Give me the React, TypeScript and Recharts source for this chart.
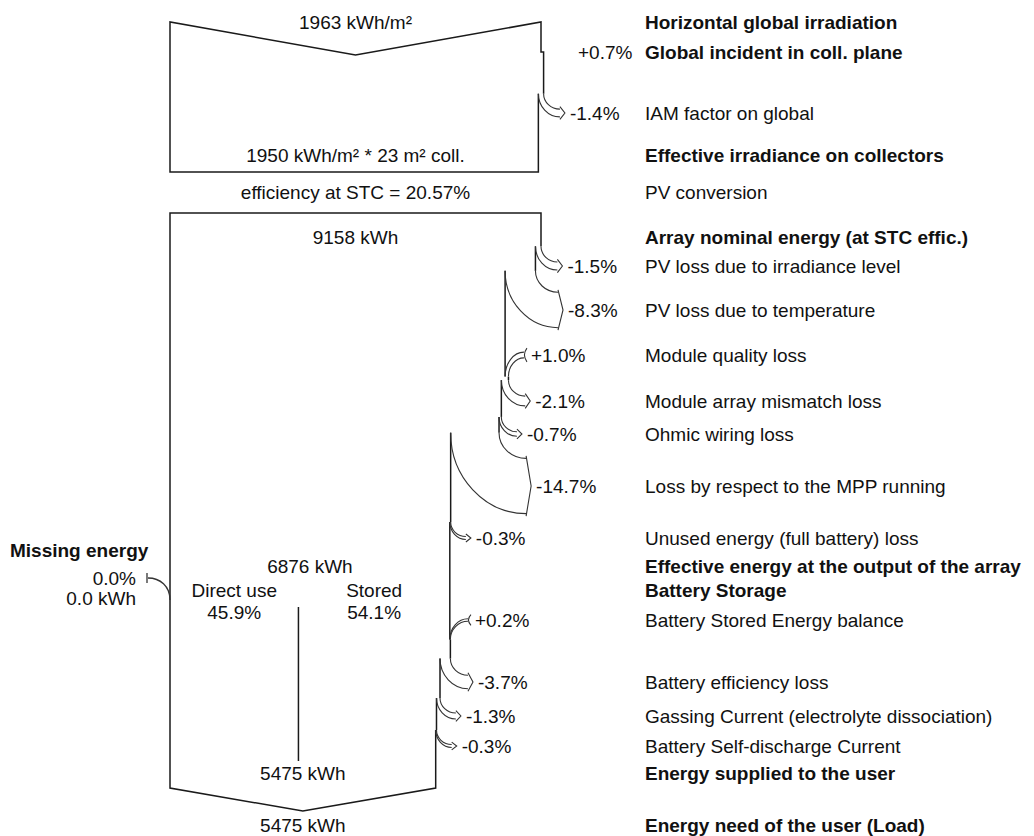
import React from 'react';
import { ComposedChart, Line, Scatter, XAxis, YAxis } from 'recharts';

// right-hand step labels, top to bottom
const STEP_LABELS = [
  'Horizontal global irradiation',
  'Global incident in coll. plane',
  'IAM factor on global',
  'Effective irradiance on collectors',
  'PV conversion',
  'Array nominal energy (at STC effic.)',
  'PV loss due to irradiance level',
  'PV loss due to temperature',
  'Module quality loss',
  'Module array mismatch loss',
  'Ohmic wiring loss',
  'Loss by respect to the MPP running',
  'Unused energy (full battery) loss',
  'Effective energy at the output of the array',
  'Battery Storage',
  'Battery Stored Energy balance',
  'Battery efficiency loss',
  'Gassing Current (electrolyte dissociation)',
  'Battery Self-discharge Current',
  'Energy supplied to the user',
  'Energy need of the user (Load)',
];
const STEP_BOLD = [1, 1, 0, 1, 0, 1, 0, 0, 0, 0, 0, 0, 0, 1, 1, 0, 0, 0, 0, 1, 1];
// gain / loss of each step in %, null = no step
const STEP_PCT: (number | null)[] = [
  null, 0.7, -1.4, null, null, null, -1.5, -8.3, 1.0, -2.1, -0.7, -14.7, -0.3,
  null, null, 0.2, -3.7, -1.3, -0.3, null, null,
];

const IRRADIATION = 1963; // kWh/m²
const EFFECTIVE_IRR = 1950; // kWh/m²
const COLL_AREA = 23; // m²
const STC_EFF = 20.57; // %
const NOMINAL_KWH = 9158;
const ARRAY_OUT_KWH = 6876;
const DIRECT_USE_PCT = 45.9;
const STORED_PCT = 54.1;
const SUPPLIED_KWH = 5475;
const LOAD_KWH = 5475;
const MISSING_PCT = 0.0;
const MISSING_KWH = 0.0;

// layout
const W = 1034;
const H = 836;
const FLOW_LEFT = 170;
const FLOW_W = 371; // px for a factor of 1
const X_MIN = -FLOW_LEFT / FLOW_W;
const X_MAX = (W - FLOW_LEFT) / FLOW_W;
const LABEL_X = 645;
const ROW_Y = [22, 52, 113, 155, 192, 237, 266, 310, 355, 401, 434, 486, 538, 566, 590, 620, 682, 716, 746, 773, 825];
const SECTION_START = [0, 5];
const TOP_BOX = { top: 22, bottom: 172, vDepth: 33 };
const MAIN_BOX = { top: 213, bottom: 788, vDepth: 23 };
const DIVIDER_Y = [607, 761];
const MISSING_Y = 578;
const FONT = "'Liberation Sans', Arial, sans-serif";
const FS = 19;
const INK = '#111';
const EDGE = '#1a1a1a';
const ARC = '#333';

const fmtPct = (p: number) => (p > 0 ? '+' : '') + p.toFixed(1) + '%';

// walk through the steps, keep the flow width factor
const steps: any[] = [];
const levelAfter: number[] = [];
let level = 1;
STEP_LABELS.forEach((_, i) => {
  if (SECTION_START.includes(i)) level = 1;
  const p = STEP_PCT[i];
  if (p != null) {
    const fNew = level * (1 + p / 100);
    const w = Math.abs(fNew - level) * FLOW_W;
    const hh = 0.55 * w + 1;
    const reach = 20 + 0.25 * w;
    const arc = i !== 1;
    const ys = !arc
      ? ROW_Y[i]
      : p < 0
        ? ROW_Y[i] - hh - (reach - 5) * 0.95
        : ROW_Y[i] + hh + reach * 0.9;
    steps.push({ row: i, x: level, y: ROW_Y[i], fPrev: level, fNew, pct: p, ys, hh, reach, arc });
    level = fNew;
  }
  levelAfter.push(level);
});

const stepAt = (row: number) => steps.find((s) => s.row === row);
const mainSteps = steps.filter((s) => s.row >= 5);
const fOut = levelAfter[12];
const fEnd = levelAfter[18];
const fDiv = fOut * DIRECT_USE_PCT / 100;

const s1 = stepAt(1);
const s2 = stepAt(2);
const outlines: { x: number; y: number }[][] = [
  [
    { x: s2.fNew, y: s2.ys },
    { x: s2.fNew, y: TOP_BOX.bottom },
    { x: 0, y: TOP_BOX.bottom },
    { x: 0, y: TOP_BOX.top },
    { x: 0.5, y: TOP_BOX.top + TOP_BOX.vDepth },
    { x: 1, y: TOP_BOX.top },
    { x: 1, y: s1.y },
    { x: s1.fNew, y: s1.y },
    { x: s1.fNew, y: s2.ys },
  ],
  [
    { x: 1, y: mainSteps[0].ys },
    { x: 1, y: MAIN_BOX.top },
    { x: 0, y: MAIN_BOX.top },
    { x: 0, y: MAIN_BOX.bottom },
    { x: fEnd / 2, y: MAIN_BOX.bottom + MAIN_BOX.vDepth },
    { x: fEnd, y: MAIN_BOX.bottom },
    { x: fEnd, y: mainSteps[mainSteps.length - 1].ys },
  ],
  [
    { x: fDiv, y: DIVIDER_Y[0] },
    { x: fDiv, y: DIVIDER_Y[1] },
  ],
];
mainSteps.slice(0, -1).forEach((s, k) => {
  outlines.push([
    { x: s.fNew, y: s.ys },
    { x: s.fNew, y: mainSteps[k + 1].ys },
  ]);
});

const boxTexts = [
  { x: 0.5, y: ROW_Y[0], text: `${IRRADIATION} kWh/m²` },
  { x: 0.5, y: ROW_Y[3], text: `${EFFECTIVE_IRR} kWh/m² * ${COLL_AREA} m² coll.` },
  { x: 0.5, y: ROW_Y[4], text: `efficiency at STC = ${STC_EFF}%` },
  { x: 0.5, y: ROW_Y[5], text: `${NOMINAL_KWH} kWh` },
  { x: fOut / 2, y: ROW_Y[13], text: `${ARRAY_OUT_KWH} kWh` },
  { x: fDiv / 2, y: ROW_Y[14], text: 'Direct use' },
  { x: fDiv / 2, y: ROW_Y[14] + 22, text: `${DIRECT_USE_PCT}%` },
  { x: (fDiv + fOut) / 2, y: ROW_Y[14], text: 'Stored' },
  { x: (fDiv + fOut) / 2, y: ROW_Y[14] + 22, text: `${STORED_PCT}%` },
  { x: fEnd / 2, y: ROW_Y[19], text: `${SUPPLIED_KWH} kWh` },
  { x: fEnd / 2, y: ROW_Y[20], text: `${LOAD_KWH} kWh` },
];

const labelRows = STEP_LABELS.map((label, i) => ({ x: 0, y: ROW_Y[i], label, bold: !!STEP_BOLD[i] }));

const StepArc = (props: any) => {
  const { cx, cy, payload } = props;
  const { fPrev, fNew, pct, ys, hh, reach, arc } = payload;
  if (!arc) {
    return (
      <text x={cx + 37} y={cy} dy=".35em" fontSize={FS} fontFamily={FONT} fill={INK}>
        {fmtPct(pct)}
      </text>
    );
  }
  const xp = cx;
  const xn = cx + (fNew - fPrev) * FLOW_W;
  const y0 = cy + (ys - payload.y);
  const tip = xp + reach;
  const loss = pct < 0;
  const xe = loss ? tip - 5 : tip - 2;
  const yA = cy - hh;
  const yB = cy + hh;
  const curve = (x0: number, y1: number) =>
    `M${x0},${y0} C${x0},${y0 + 0.55 * (y1 - y0)} ${xe - 0.55 * (xe - x0)},${y1} ${xe},${y1}`;
  const head = loss
    ? `M${xe},${yA - 2.5} L${tip},${cy} L${xe},${yB + 2.5}`
    : `M${tip + 1},${yA - 4} Q${tip - 4},${cy} ${tip + 1},${yB + 4}`;
  return (
    <g>
      <path d={curve(xp, yA)} fill="none" stroke={ARC} strokeWidth={1.1} />
      <path d={curve(xn, yB)} fill="none" stroke={ARC} strokeWidth={1.1} />
      <path d={head} fill="none" stroke={ARC} strokeWidth={1.1} />
      <text x={tip + 5} y={cy} dy=".35em" fontSize={FS} fontFamily={FONT} fill={INK}>
        {fmtPct(pct)}
      </text>
    </g>
  );
};

const BoxText = (props: any) => (
  <text x={props.cx} y={props.cy} dy=".35em" textAnchor="middle" fontSize={FS} fontFamily={FONT} fill={INK}>
    {props.payload.text}
  </text>
);

const StepLabel = (props: any) => (
  <text
    x={LABEL_X}
    y={props.cy}
    dy=".35em"
    fontSize={FS}
    fontFamily={FONT}
    fontWeight={props.payload.bold ? 'bold' : 'normal'}
    fill={INK}
  >
    {props.payload.label}
  </text>
);

const MissingEnergy = (props: any) => {
  const { cx, cy } = props;
  return (
    <g>
      <path d={`M${cx},${cy + 22} C${cx},${cy + 8} ${cx - 10},${cy} ${cx - 22},${cy}`} fill="none" stroke={ARC} strokeWidth={1.3} />
      <path d={`M${cx - 23},${cy - 5} L${cx - 23},${cy + 5}`} fill="none" stroke={ARC} strokeWidth={1.3} />
      <text x={cx - 34} y={cy} dy=".35em" textAnchor="end" fontSize={FS} fontFamily={FONT} fill={INK}>
        {MISSING_PCT.toFixed(1)}%
      </text>
      <text x={cx - 34} y={cy + 20} dy=".35em" textAnchor="end" fontSize={FS} fontFamily={FONT} fill={INK}>
        {MISSING_KWH.toFixed(1)} kWh
      </text>
      <text x={10} y={cy - 28} dy=".35em" fontSize={FS} fontFamily={FONT} fontWeight="bold" fill={INK}>
        Missing energy
      </text>
    </g>
  );
};

export default function App() {
  return (
    <div style={{ width: W, height: H, background: '#fff' }}>
      <style>{'body{margin:0;background:#fff}'}</style>
      <ComposedChart width={W} height={H} margin={{ top: 0, right: 0, bottom: 0, left: 0 }}>
        <XAxis type="number" dataKey="x" domain={[X_MIN, X_MAX]} hide />
        <YAxis type="number" dataKey="y" domain={[0, H]} reversed hide />
        {outlines.map((pts, i) => (
          <Line
            key={'edge' + i}
            data={pts}
            dataKey="y"
            type="linear"
            stroke={EDGE}
            strokeWidth={1.5}
            dot={false}
            activeDot={false}
            isAnimationActive={false}
          />
        ))}
        <Scatter data={steps} shape={(p: any) => <StepArc {...p} />} isAnimationActive={false} />
        <Scatter data={boxTexts} shape={(p: any) => <BoxText {...p} />} isAnimationActive={false} />
        <Scatter data={labelRows} shape={(p: any) => <StepLabel {...p} />} isAnimationActive={false} />
        <Scatter data={[{ x: 0, y: MISSING_Y }]} shape={(p: any) => <MissingEnergy {...p} />} isAnimationActive={false} />
      </ComposedChart>
    </div>
  );
}
